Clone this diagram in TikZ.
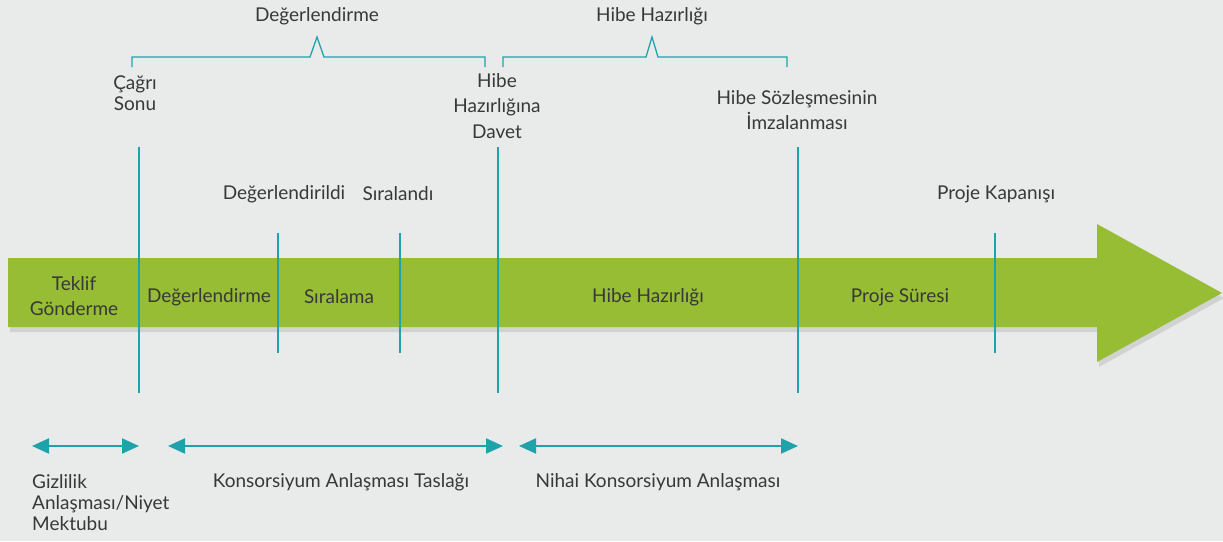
\documentclass[tikz,border=0pt]{standalone}
\usepackage{fontspec}
\setmainfont{Lato}
\usetikzlibrary{arrows.meta}
\definecolor{bgc}{HTML}{E9EBEA}
\definecolor{grn}{HTML}{97BD35}
\definecolor{teal1}{HTML}{1FA3AB}
\definecolor{txt}{HTML}{383838}
\tikzset{
  lbl/.style={text=txt, font=\fontsize{19}{25.5}\selectfont, align=center, inner sep=0pt},
  tight/.style={font=\fontsize{19}{21}\selectfont},
  lbll/.style={lbl, align=left, anchor=west},
  mark line/.style={draw=teal1, line width=2.2pt},
  brace line/.style={draw=teal1, line width=1.3pt, line join=miter},
  span arrow/.style={draw=teal1, line width=2.2pt, {Triangle[length=17pt,width=15pt]}-{Triangle[length=17pt,width=15pt]}},
}
\begin{document}
\begin{tikzpicture}[x=1pt,y=-1pt]
\fill[bgc] (0,0) rectangle (1223,541);
\useasboundingbox (0,0) rectangle (1223,541);
% shadow
\fill[black, opacity=0.10] (10,262) -- (1099,262) -- (1099,228) -- (1224,298) -- (1099,367) -- (1099,332) -- (10,332) -- cycle;
% big arrow
\fill[grn] (8,258) -- (1097,258) -- (1097,224) -- (1222,293) -- (1097,362) -- (1097,327) -- (8,327) -- cycle;
% marker lines
\coordinate (m1t) at (139,147); \coordinate (m1b) at (139,393);
\coordinate (m2t) at (278,233); \coordinate (m2b) at (278,353);
\coordinate (m3t) at (400,233); \coordinate (m3b) at (400,353);
\coordinate (m4t) at (498,147); \coordinate (m4b) at (498,393);
\coordinate (m5t) at (798,147); \coordinate (m5b) at (798,393);
\coordinate (m6t) at (995,233); \coordinate (m6b) at (995,353);
\foreach \i in {1,...,6} {\draw[mark line] (m\i t) -- (m\i b);}
% braces
\draw[brace line] (132,67) -- (132,57) -- (310,57) -- (317,37) -- (324,57) -- (485,57) -- (485,67);
\draw[brace line] (503,67) -- (503,57) -- (646,57) -- (652,37) -- (658,57) -- (787,57) -- (787,67);
\node[lbl] (tb1) at (317,16) {Değerlendirme};
\node[lbl] (tb2) at (652,16) {Hibe Hazırlığı};
% top labels
\node[lbl,tight] (cs) at (135,93) {Çağrı\\Sonu};
\node[lbl] (hd) at (497,106) {Hibe\\Hazırlığına\\Davet};
\node[lbl] (hs) at (797,110) {Hibe Sözleşmesinin\\İmzalanması};
\node[lbl] (dg) at (284,194) {Değerlendirildi};
\node[lbl] (sr) at (398,194) {Sıralandı};
\node[lbl] (pk) at (996,194) {Proje Kapanışı};
% arrow labels
\node[lbl] (tg) at (74,296) {Teklif\\Gönderme};
\node[lbl] (dm) at (209,297) {Değerlendirme};
\node[lbl] (sl) at (339,297) {Sıralama};
\node[lbl] (hh) at (648,297) {Hibe Hazırlığı};
\node[lbl] (ps) at (900,297) {Proje Süresi};
% bottom spans
\coordinate (a1l) at (32,446); \coordinate (a1r) at (139,446);
\coordinate (a2l) at (168,446); \coordinate (a2r) at (503,446);
\coordinate (a3l) at (519,446); \coordinate (a3r) at (798,446);
\draw[span arrow] (a1l) -- (a1r);
\draw[span arrow] (a2l) -- (a2r);
\draw[span arrow] (a3l) -- (a3r);
\node[lbll,tight] (gz) at (32,503) {Gizlilik\\Anlaşması/Niyet\\Mektubu};
\node[lbl] (ks) at (341,482) {Konsorsiyum Anlaşması Taslağı};
\node[lbl] (nk) at (658,482) {Nihai Konsorsiyum Anlaşması};
\end{tikzpicture}
\end{document}
